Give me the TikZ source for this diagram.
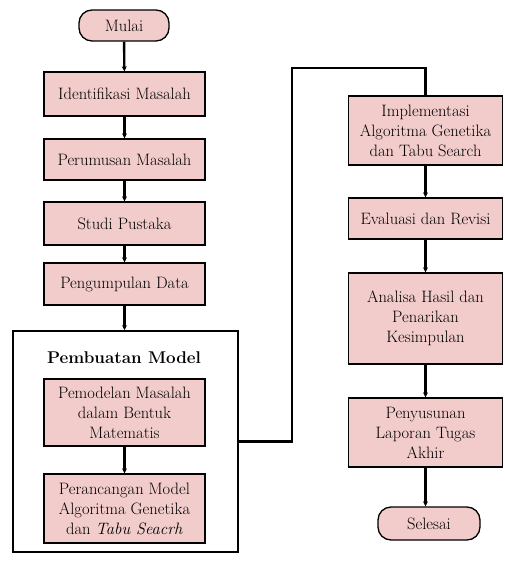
\documentclass[tikz,border=0pt]{standalone}
\usepackage{fontspec}
\usetikzlibrary{arrows.meta}
\definecolor{boxpink}{HTML}{F2CBCB}
\begin{document}
\begin{tikzpicture}[x=1pt,y=-1pt]

  % One unit = one pixel of the original figure (y grows downwards)
  \useasboundingbox (0,0) rectangle (504,561);
  \tikzset{
    stepbox/.style={draw,line width=1.3pt,fill=boxpink,align=center,
      inner sep=1pt,font=\fontsize{16.5}{20}\selectfont},
    terminal/.style={stepbox,rounded corners=13pt,minimum width=90pt,minimum height=31pt},
    flow/.style={line width=2.4pt,-{Stealth[length=5pt,width=5pt]}}
  }

  % Left column
  \node[terminal] (mulai) at (124,25.5) {Mulai};
  \node[stepbox,minimum width=161pt,minimum height=44pt] (identifikasi) at (124.5,94) {Identifikasi Masalah};
  \node[stepbox,minimum width=161pt,minimum height=41pt] (perumusan) at (124.5,159.5) {Perumusan Masalah};
  \node[stepbox,minimum width=161pt,minimum height=43pt] (studi) at (124.5,223.5) {Studi Pustaka};
  \node[stepbox,minimum width=161pt,minimum height=42pt] (pengumpulan) at (124.5,284) {Pengumpulan Data};

  % Group box around the two modelling steps
  \node[draw,line width=1.6pt,minimum width=225pt,minimum height=221pt] (model) at (125.5,441.5) {};
  \node[font=\fontsize{17}{20}\selectfont\bfseries] (modeltitle) at (124,358) {Pembuatan Model};
  \node[stepbox,minimum width=161pt,minimum height=67pt] (pemodelan) at (124.5,412.5)
    {Pemodelan Masalah\\dalam Bentuk\\Matematis};
  \node[stepbox,minimum width=161pt,minimum height=69pt] (perancangan) at (124.5,508.5)
    {Perancangan Model\\Algoritma Genetika\\dan \textit{Tabu Seacrh}};

  % Right column
  \node[stepbox,minimum width=154pt,minimum height=69pt] (implementasi) at (425.5,130.5)
    {Implementasi\\Algoritma Genetika\\dan Tabu Search};
  \node[stepbox,minimum width=154pt,minimum height=41pt] (evaluasi) at (425.5,218.5) {Evaluasi dan Revisi};
  \node[stepbox,minimum width=154pt,minimum height=91pt] (analisa) at (425.5,318.5)
    {Analisa Hasil dan\\Penarikan\\Kesimpulan};
  \node[stepbox,minimum width=154pt,minimum height=69pt] (penyusunan) at (425.5,432.5)
    {Penyusunan\\Laporan Tugas\\Akhir};
  \node[terminal,minimum width=102pt,minimum height=33pt] (selesai) at (429,523.5) {Selesai};

  % Connectors
  \draw[flow] (mulai) -- (identifikasi);
  \draw[flow] (identifikasi) -- (perumusan);
  \draw[flow] (perumusan) -- (studi);
  \draw[flow] (studi) -- (pengumpulan);
  \draw[flow] (pengumpulan) -- (model.north -| pengumpulan.south);
  \draw[flow] (pemodelan) -- (perancangan);

  % Jump from the group box over to the right column
  \coordinate (bendA) at (292,68);
  \draw[line width=2.4pt] (model.east) -| (bendA) -| (implementasi.north);

  \draw[flow] (implementasi) -- (evaluasi);
  \draw[flow] (evaluasi) -- (analisa);
  \draw[flow] (analisa) -- (penyusunan);
  \draw[flow] (penyusunan) -- (selesai.north -| penyusunan.south);

\end{tikzpicture}
\end{document}
